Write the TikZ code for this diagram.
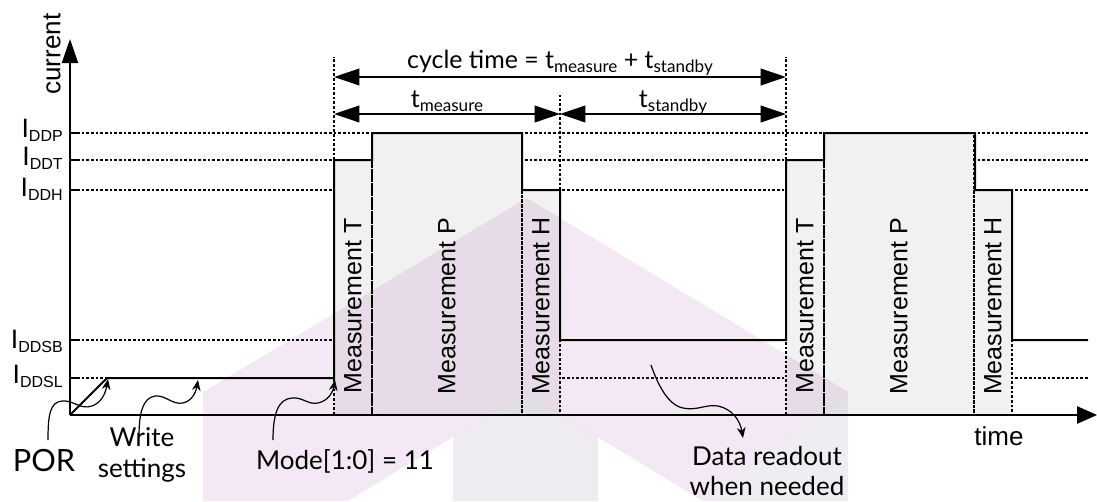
\documentclass[tikz,border=0pt]{standalone}
\usepackage{fontspec}
\setmainfont{Liberation Sans}
\newfontfamily\hfont{Lato}
\usetikzlibrary{arrows.meta}
\definecolor{boxgray}{RGB}{241,241,241}
\definecolor{wmpink}{RGB}{170,90,175}
\definecolor{wmgray}{RGB}{100,80,120}
\newcommand{\Ilab}[1]{{\fontsize{20}{20}\selectfont I}\raisebox{-3.6pt}{\fontsize{12}{12}\selectfont #1}}
\newcommand{\tsub}[1]{t\raisebox{-3pt}{\fontsize{12.8}{12}\selectfont #1}}
\tikzset{
  sig/.style={line width=1.5pt},
  lvl/.style={line width=0.9pt, dash pattern=on 2pt off 1.5pt},
  dimarr/.style={line width=1.2pt, {Triangle[length=19pt,width=12.5pt]}-{Triangle[length=19pt,width=12.5pt]}},
  wavy/.style={line width=0.9pt, -{Stealth[length=8pt,width=6.5pt]}},
  meas/.style={rotate=90, font=\fontsize{18.75}{20}\selectfont, inner sep=0pt},
  ann/.style={font=\hfont\fontsize{19.5}{23}\selectfont, align=center, inner sep=0pt},
  lab/.style={font=\fontsize{19.5}{22}\selectfont, inner sep=0pt},
  ilab/.style={inner sep=0pt, anchor=base east},
  boxfill/.style={fill=boxgray},
}
\begin{document}
\begin{tikzpicture}[x=0.75pt,y=-0.75pt]
\useasboundingbox (0,0) rectangle (1097,501);
% level lines
\foreach \yy in {133,160,190,340,378}{
  \draw[lvl] (77,\yy) -- (1089,\yy);
  \draw[sig] (70,\yy) -- (77,\yy);
}
% boxes
\foreach \s in {0,452}{
  \fill[boxfill] (334+\s,160) rectangle (372+\s,415);
  \fill[boxfill] (372+\s,133) rectangle (522+\s,415);
  \fill[boxfill] (522+\s,190) rectangle (560+\s,415);
}
% watermark
\fill[wmpink, fill opacity=0.14] (203,501) -- (203,392) -- (527,198) -- (848,392) -- (703,501) -- (525,393) -- (348,501) -- cycle;
\fill[wmgray, fill opacity=0.11] (453,501) -- (453,437) -- (525,393) -- (598,437) -- (598,501) -- cycle;
\fill[wmgray, fill opacity=0.10] (703,501) -- (848,392) -- (848,501) -- cycle;
% box outlines dashed
\foreach \s in {0,452}{
  \draw[lvl] (334+\s,160) rectangle (372+\s,415);
  \draw[lvl] (372+\s,133) rectangle (522+\s,415);
  \draw[lvl] (522+\s,190) rectangle (560+\s,415);
}
% marker lines
\draw[lvl] (334,160) -- (334,57);
\draw[lvl] (560,190) -- (560,95);
\draw[lvl] (786,160) -- (786,57);
% axes
\coordinate (O) at (70,415);
\coordinate (ytip) at (70,39);
\coordinate (xtip) at (1097,415);
\draw[line width=1.5pt, -{Triangle[length=18pt,width=12pt]}] (O) -- (ytip);
\draw[line width=1.25pt, -{Triangle[length=15pt,width=13pt]}] (O) -- (xtip);
% signal
\draw[sig] (O) -- (107,378) -- (334,378) -- (334,160) -- (372,160) -- (372,133) -- (522,133) -- (522,190) -- (560,190) -- (560,340) -- (786,340) -- (786,160) -- (824,160) -- (824,133) -- (975,133) -- (975,190) -- (1012,190) -- (1012,340) -- (1088,340);
% dimension arrows
\coordinate (c1) at (334,77); \coordinate (c2) at (786,77);
\coordinate (m1) at (334,114); \coordinate (m2) at (560,114); \coordinate (m3) at (786,114);
\draw[dimarr] (c1) -- (c2);
\draw[dimarr] (m1) -- (m2);
\draw[dimarr] (m2) -- (m3);
\node[ann, font=\hfont\fontsize{18.7}{23}\selectfont, anchor=base] (cyc) at (560,68) {cycle time = \tsub{measure} + \tsub{standby}};
\node[ann, font=\hfont\fontsize{18.7}{23}\selectfont, anchor=base] (tm) at (447,107) {\tsub{measure}};
\node[ann, font=\hfont\fontsize{18.7}{23}\selectfont, anchor=base] (ts) at (673,107) {\tsub{standby}};
% axis labels
\node[lab, rotate=90] (cur) at (52,54) {current};
\node[lab] (tim) at (999,436) {time};
\node[ilab] (lP) at (63,137) {\Ilab{DDP}};
\node[ilab] (lT) at (63,165) {\Ilab{DDT}};
\node[ilab] (lH) at (63,196) {\Ilab{DDH}};
\node[ilab] (lSB) at (63,348) {\Ilab{DDSB}};
\node[ilab] (lSL) at (63,383) {\Ilab{DDSL}};
% measurement labels
\node[meas] (mT1) at (353,306) {Measurement T};
\node[meas] (mP1) at (447,306) {Measurement P};
\node[meas] (mH1) at (541,306) {Measurement H};
\node[meas] (mT2) at (805,306) {Measurement T};
\node[meas] (mP2) at (899,306) {Measurement P};
\node[meas] (mH2) at (993,306) {Measurement H};
% annotations
\node[ann, font=\hfont\fontsize{23}{25}\selectfont] (por) at (44,460) {POR};
\node[ann] (wr) at (142,455) {Write\\settings};
\node[ann] (mode) at (345,461) {Mode[1:0] = 11};
\node[ann] (data) at (767,471) {Data readout\\when needed};
\coordinate (porTip) at (108,379);
\coordinate (wrTip) at (198,380);
\coordinate (modeTip) at (335,380);
\coordinate (dataTip) at (743,438);
\draw[wavy] (48,440) .. controls (48,415) and (50,402) .. (62,401) .. controls (74,400) and (80,410) .. (92,406) .. controls (100,403) and (105,396) .. (porTip);
\draw[wavy] (139,437) .. controls (139,412) and (143,398) .. (155,396) .. controls (166,395) and (172,405) .. (183,403) .. controls (192,401) and (196,392) .. (wrTip);
\draw[wavy] (273,440) .. controls (273,414) and (278,399) .. (292,398) .. controls (303,397) and (308,405) .. (318,403) .. controls (328,401) and (333,392) .. (modeTip);
\draw[wavy] (651,365) .. controls (658,385) and (668,405) .. (683,408) .. controls (697,411) and (706,404) .. (718,406) .. controls (732,409) and (740,420) .. (dataTip);
\end{tikzpicture}
\end{document}
